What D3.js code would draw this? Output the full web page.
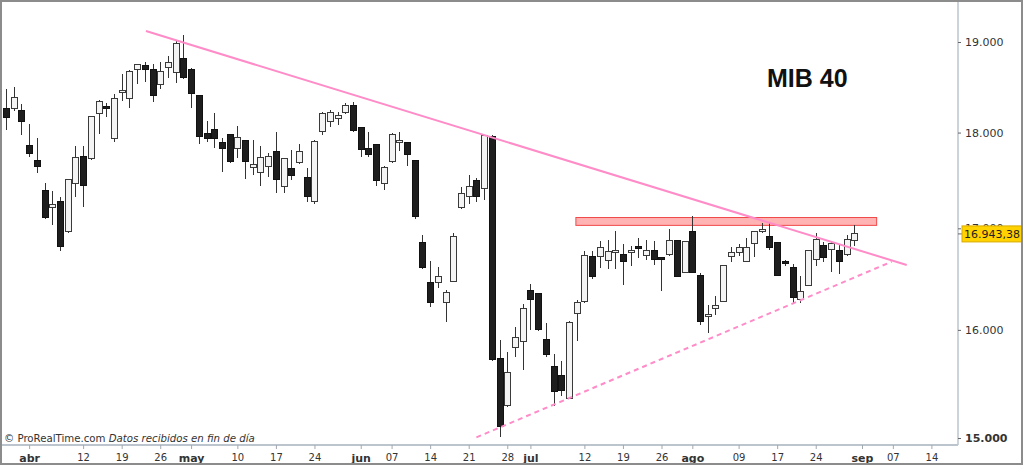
<!DOCTYPE html>
<html>
<head>
<meta charset="utf-8">
<script src="https://cdn.jsdelivr.net/npm/d3@7"></script>
<style>
  body { margin: 0; background: #fff; }
  svg { display: block; }
</style>
</head>
<body>
<svg id="chart" width="1024" height="466"></svg>
<script>
// daily sessions, oldest first (one entry per candle)
const opens = [18256,18256,18234,17857,17698,17384,17208,17270,16963,17456,17740,17719,18201,18278,17932,18431,18365,18686,18731,18686,
  18520,18708,18653,18809,18686,18398,17985,18028,17889,17974,17825,17910,17624,17572,17635,17803,17425,17614,17677,17519,
  17270,18007,18114,18147,18212,18289,18050,17835,17868,17456,17687,17900,17889,17698,16852,16455,16455,16259,16465,17208,
  17321,17488,17404,17953,15733,15290,15837,15885,16376,16347,15913,15650,15566,15362,16162,16269,16712,16712,16672,16762,
  16732,16765,16812,16722,16772,16702,16732,16872,16553,16963,16524,16133,16210,16269,16712,16752,16662,16842,16963,16922,
  16852,16662,16612,16288,16425,16682,16822,16782,16772,16732,16872];
const highs = [18475,18497,18310,18093,17942,17467,17384,17321,17508,17857,17857,18180,18354,18321,18420,18641,18686,18753,18776,18753,
  18776,18843,19012,19080,18708,18400,18125,18212,17942,17980,18071,17921,17921,17857,17782,18007,17729,17814,17878,17624,
  17921,18223,18245,18223,18321,18332,18055,18007,17870,17645,17996,18007,17900,17700,16932,16672,16612,16386,16953,17425,
  17550,17519,17974,17974,15904,15790,16028,16250,16445,16350,16066,15771,15706,16085,16288,16772,16772,16872,16882,16973,
  16842,16822,16902,16882,16872,16710,16993,16880,16865,17126,16553,16240,16327,16625,16812,16842,16902,16973,17055,17055,
  16855,16682,16642,16524,16775,16953,16862,16862,16842,16932,17034];
const lows = [18028,18234,17974,17740,17572,17095,17034,16772,16955,17321,17218,17708,17985,18169,17900,18343,18267,18531,18553,18332,
  18475,18597,18542,18590,18267,17878,17900,17835,17582,17677,17729,17508,17550,17435,17529,17363,17363,17498,17666,17270,
  17249,17974,18060,18082,18201,18007,17740,17740,17435,17394,17680,17803,17645,17095,16592,16220,16406,16076,16460,17200,
  17249,17270,17290,15710,15009,15281,15743,15622,15999,15990,15743,15290,15381,15360,15894,16260,16494,16602,16592,16592,
  16435,16622,16702,16682,16632,16376,16725,16510,16550,16550,16047,15971,16143,16265,16662,16722,16660,16712,16953,16782,
  16520,16622,16250,16259,16420,16622,16662,16563,16543,16722,16822];
const closes = [18168,18376,18114,17772,17635,17106,17239,16812,17498,17729,17435,18169,18332,18256,18365,18453,18664,18742,18686,18398,
  18664,18764,18978,18597,18420,17953,17932,17932,17835,17687,17942,17687,17656,17729,17740,17498,17719,17540,17803,17321,
  17900,18201,18212,18180,18289,18017,17814,17761,17488,17624,17974,17910,17761,17116,16612,16259,16514,16357,16922,17352,
  17425,17321,17964,15715,15099,15594,15932,16201,16288,15999,15771,15418,15427,16066,16259,16722,16523,16802,16762,16772,
  16662,16772,16802,16772,16682,16682,16872,16514,16862,16553,16085,16143,16230,16622,16752,16802,16802,16963,16993,16802,
  16524,16652,16308,16366,16772,16882,16702,16842,16662,16882,16943.38];

// bottom axis: session index of each label
const tickIdx = [3,10,15,20,24,30,35,40,46,50,55,60,65,68,75,80,85,89,95,100,105,111,115,120];
const tickLabels = ["abr","12","19","26","may","10","17","24","jun","07","14","21","28","jul","12","19","26","ago","09","17","24","sep","07","14"];
const monthLabels = ["abr","may","jun","jul","ago","sep"];

const priceTicks = [15000, 16000, 17000, 18000, 19000];
const lastPrice = 16943.38;
const title = "MIB 40";

// drawn studies, as (session index, price)
const resistIdx = [18.15, 116.8];
const resistVal = [19125, 16632];
const supportIdx = [61.0, 114.85];
const supportVal = [15006, 16665];
const zoneIdx = [73.9, 112.9];
const zoneVal = [17030, 17110];

const svg = d3.select("#chart");
const plotRight = 958, plotBottom = 445;

const fmtLocale = d3.formatLocale({decimal: ",", thousands: ".", grouping: [3], currency: ["", ""]});
const fmtInt = fmtLocale.format(",d");
const fmtPrice = fmtLocale.format(",.2f");

const x = d3.scaleLinear().domain([0, 111]).range([6, 862]);
const y = d3.scaleLog().domain([15000, 19000]).range([438, 42]);

svg.append("defs").append("clipPath").attr("id", "plotClip")
   .append("rect").attr("x", 0).attr("y", 0).attr("width", plotRight).attr("height", plotBottom);

const plot = svg.append("g").attr("clip-path", "url(#plotClip)");

// resistance zone
plot.append("rect")
    .attr("x", x(zoneIdx[0]))
    .attr("y", y(zoneVal[1]))
    .attr("width", x(zoneIdx[1]) - x(zoneIdx[0]))
    .attr("height", y(zoneVal[0]) - y(zoneVal[1]))
    .attr("fill", "#ffb3b3")
    .attr("stroke", "#f04848")
    .attr("stroke-width", 1);

const candles = d3.range(opens.length).map(i => ({i: i, o: opens[i], h: highs[i], l: lows[i], c: closes[i]}));

const cg = plot.append("g").attr("shape-rendering", "crispEdges");
cg.selectAll("line.wick").data(candles).join("line")
  .attr("class", "wick")
  .attr("x1", d => Math.round(x(d.i)))
  .attr("x2", d => Math.round(x(d.i)))
  .attr("y1", d => y(d.h))
  .attr("y2", d => y(d.l))
  .attr("stroke", "#333")
  .attr("stroke-width", 1);

cg.selectAll("rect.body").data(candles).join("rect")
  .attr("class", "body")
  .attr("x", d => Math.round(x(d.i)) - 3)
  .attr("width", 6)
  .attr("y", d => y(Math.max(d.o, d.c)))
  .attr("height", d => Math.max(1.5, y(Math.min(d.o, d.c)) - y(Math.max(d.o, d.c))))
  .attr("fill", d => d.c >= d.o ? "#f4f4f4" : "#1e1e1e")
  .attr("stroke", d => d.c >= d.o ? "#3a3a3a" : "#111")
  .attr("stroke-width", 1);

// trend lines
const lineGen = d3.line().x(d => x(d[0])).y(d => y(d[1]));
plot.append("path")
    .attr("d", lineGen(d3.zip(resistIdx, resistVal)))
    .attr("fill", "none")
    .attr("stroke", "#ff8cc8")
    .attr("stroke-width", 2);
plot.append("path")
    .attr("d", lineGen(d3.zip(supportIdx, supportVal)))
    .attr("fill", "none")
    .attr("stroke", "#ff8cc8")
    .attr("stroke-width", 2)
    .attr("stroke-dasharray", "5,4");

// axis lines
svg.append("line").attr("x1", 0).attr("x2", plotRight).attr("y1", plotBottom).attr("y2", plotBottom)
   .attr("stroke", "#bcc5ce").attr("stroke-width", 2);
svg.append("line").attr("x1", plotRight).attr("x2", plotRight).attr("y1", 0).attr("y2", plotBottom)
   .attr("stroke", "#bcc5ce").attr("stroke-width", 1.5);

// bottom axis
const xAxis = d3.axisBottom(x).tickValues(tickIdx).tickFormat((d, k) => tickLabels[k])
                .tickSize(4).tickPadding(5);
const xg = svg.append("g").attr("transform", `translate(0,${plotBottom})`).call(xAxis);
xg.select(".domain").remove();
xg.selectAll(".tick line").attr("stroke", "#a0a8b0");
xg.selectAll(".tick text")
  .style("font-family", "'DejaVu Sans', Verdana, sans-serif")
  .style("font-size", d => monthLabels.includes(tickLabels[tickIdx.indexOf(d)]) ? "11px" : "10px")
  .style("font-weight", d => monthLabels.includes(tickLabels[tickIdx.indexOf(d)]) ? "bold" : "normal")
  .attr("fill", "#333");

// right axis
const yAxis = d3.axisRight(y).tickValues(priceTicks).tickFormat(fmtInt).tickSize(3).tickPadding(4);
const yg = svg.append("g").attr("transform", `translate(${plotRight},0)`).call(yAxis);
yg.select(".domain").remove();
yg.selectAll(".tick line").attr("stroke", "#666");
yg.selectAll(".tick text")
  .style("font-family", "'DejaVu Sans', Verdana, sans-serif")
  .style("font-size", "11px")
  .style("font-weight", d => d === priceTicks[0] ? "bold" : "normal")
  .attr("fill", "#333");

// last price tag (sits over the 17.000 label, as in the source)
const yLast = y(lastPrice);
svg.append("line").attr("x1", plotRight).attr("x2", plotRight + 4).attr("y1", yLast).attr("y2", yLast)
   .attr("stroke", "#666");
svg.append("rect")
   .attr("x", plotRight + 4).attr("y", yLast - 8)
   .attr("width", 60).attr("height", 16)
   .attr("fill", "#ffd200").attr("stroke", "#d9aa00");
svg.append("text")
   .attr("x", plotRight + 6).attr("y", yLast)
   .attr("dy", "0.35em")
   .style("font-family", "'DejaVu Sans', Verdana, sans-serif")
   .style("font-size", "11px")
   .attr("fill", "#222")
   .text(fmtPrice(lastPrice));

// title
svg.append("text")
   .attr("x", 767).attr("y", 87)
   .style("font-family", "'Liberation Sans', Arial, sans-serif")
   .style("font-size", "25px")
   .style("font-weight", "bold")
   .attr("fill", "#111")
   .text(title);

// source note
const note = svg.append("text")
   .attr("x", 4).attr("y", 442)
   .style("font-family", "'DejaVu Sans', Verdana, sans-serif")
   .style("font-size", "10.2px")
   .attr("fill", "#333");
note.append("tspan").text("© ProRealTime.com ");
note.append("tspan").style("font-style", "italic").text("Datos recibidos en fin de día");

// frame
svg.append("rect").attr("x", 1).attr("y", 1).attr("width", 1021).attr("height", 463)
   .attr("fill", "none").attr("stroke", "#8c8c8c").attr("stroke-width", 2);
</script>
</body>
</html>
